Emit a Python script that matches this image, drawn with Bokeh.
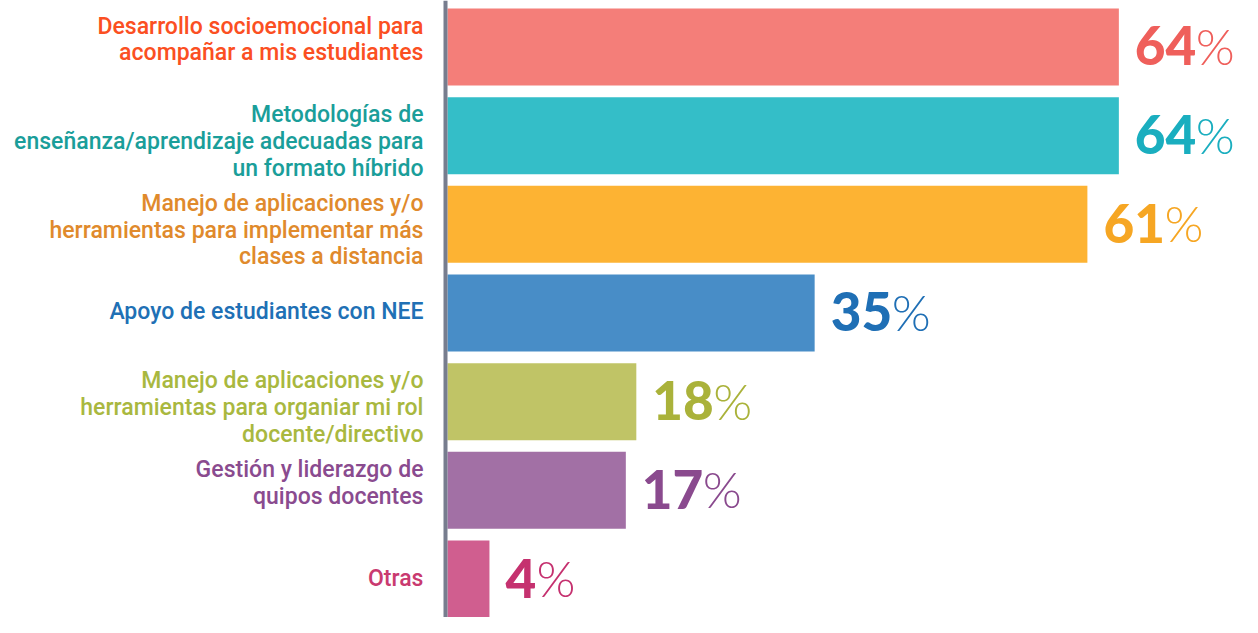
from bokeh.plotting import figure
from bokeh.models import ColumnDataSource, Range1d, Span
from bokeh.core.properties import value
from bokeh.embed import file_html
from bokeh.resources import INLINE

categories = [
    "Desarrollo socioemocional para\nacompañar a mis estudiantes",
    "Metodologías de\nenseñanza/aprendizaje adecuadas para\nun formato híbrido",
    "Manejo de aplicaciones y/o\nherramientas para implementar más\nclases a distancia",
    "Apoyo de estudiantes con NEE",
    "Manejo de aplicaciones y/o\nherramientas para organiar mi rol\ndocente/directivo",
    "Gestión y liderazgo de\nquipos docentes",
    "Otras",
]
values = [64, 64, 61, 35, 18, 17, 4]
bar_colors = ["#F47E79", "#34BEC8", "#FDB333", "#488DC7", "#C0C466", "#A270A5", "#D05E8F"]
label_colors = ["#FB4F22", "#1A9E9A", "#E08A2C", "#2070B5", "#A9B83F", "#8A4B8F", "#C93A70"]
num_colors = ["#EF5F5B", "#1AAEBF", "#F6A623", "#1F6FB5", "#AAB23A", "#8A4A8E", "#C5316F"]

W, H = 1242, 617
PX_PER_UNIT = 10.49
X0 = 447
ROW_PX = 88.67
BAR_H = 0.868

ys = list(range(len(categories)))

p = figure(width=W, height=H, output_backend="svg", toolbar_location=None,
           x_axis_type=None, y_axis_type=None, min_border=0,
           x_range=Range1d(-X0 / PX_PER_UNIT, (W - X0) / PX_PER_UNIT),
           y_range=Range1d(6 + (H - 578.5) / ROW_PX, -46.5 / ROW_PX))
p.outline_line_color = None
p.grid.visible = False
p.background_fill_color = "white"
p.border_fill_color = "white"

src = ColumnDataSource(dict(
    y=ys, v=values, bc=bar_colors, lc=label_colors, nc=num_colors,
    num=[str(v) for v in values],
    pct=["%"] * len(values),
    pct_off=[17 + 30 * len(str(v)) for v in values],
))
p.hbar(y="y", left=0, right="v", height=BAR_H, fill_color="bc", line_color=None, source=src)

# labels: multi-line top aligned, single-line centred
multi = [i for i, c in enumerate(categories) if "\n" in c]
single = [i for i, c in enumerate(categories) if "\n" not in c]
msrc = ColumnDataSource(dict(y=[ys[i] - BAR_H / 2 for i in multi],
                             t=[categories[i] for i in multi],
                             c=[label_colors[i] for i in multi]))
ssrc = ColumnDataSource(dict(y=[ys[i] for i in single],
                             t=[categories[i] for i in single],
                             c=[label_colors[i] for i in single]))
lfont = value("'Roboto Medium', Roboto")
p.text(x=0, y="y", text="t", source=msrc, text_color="c", text_align="right",
       text_baseline="top", x_offset=-24, y_offset=4, text_font=lfont,
       text_font_size="23px", text_line_height=0.99)
p.text(x=0, y="y", text="t", source=ssrc, text_color="c", text_align="right",
       text_baseline="middle", x_offset=-24, y_offset=-1, text_font=lfont,
       text_font_size="23px", text_line_height=0.99)

p.text(x="v", y="y", text="num", source=src, text_color="nc", text_align="left",
       text_baseline="middle", x_offset=16, y_offset=-1, text_font=value("'Lato Black', Lato"),
       text_font_style="bold", text_font_size="53px")
p.text(x="v", y="y", text="pct", source=src, text_color="nc", text_align="left",
       text_baseline="middle", x_offset="pct_off", y_offset=-1, text_font=value("'Lato Light', Lato"),
       text_font_size="50px")

p.add_layout(Span(location=-2 / PX_PER_UNIT, dimension="height", line_color="#777D8E", line_width=4))

open("out.html", "w").write(file_html(p, INLINE))
